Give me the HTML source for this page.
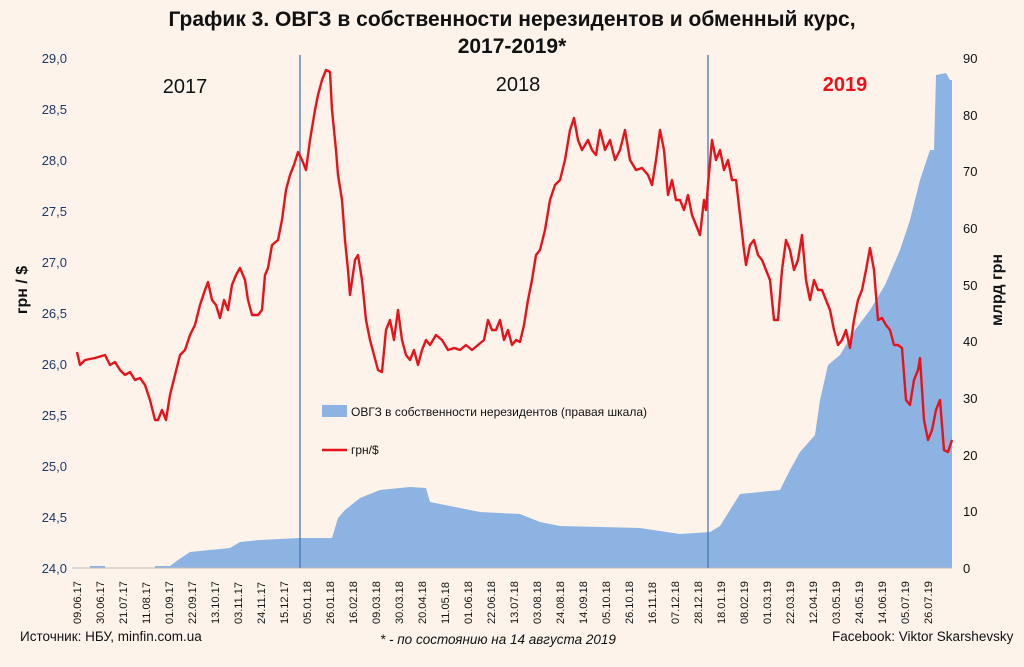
<!DOCTYPE html>
<html><head><meta charset="utf-8"><style>
html,body{margin:0;padding:0;background:#fdf3ea;}
svg{display:block;font-family:"Liberation Sans","DejaVu Sans",sans-serif;}
</style></head><body>
<svg width="1024" height="667" viewBox="0 0 1024 667" xmlns="http://www.w3.org/2000/svg">
<rect width="1024" height="667" fill="#fdf3ea"/>
<text x="512" y="26" text-anchor="middle" font-size="21" font-weight="bold" fill="#111">График 3. ОВГЗ в собственности нерезидентов и обменный курс,</text>
<text x="512" y="53" text-anchor="middle" font-size="21" font-weight="bold" fill="#111">2017-2019*</text>
<path fill="#8db3e2" d="M72,568 L90,568 L90,566 L105,566 L105,568 L155,568 L155,566 L170,566 L178,560 L190,552 L230,548 L240,542 L260,540 L300,538 L332,538 L338,518 L345,510 L360,498 L380,490 L410,487 L426,488 L430,502 L460,508 L480,512 L520,514 L540,522 L560,526 L640,528 L680,534 L710,532 L720,526 L730,510 L740,494 L780,490 L790,470 L800,452 L815,435 L820,400 L828,365 L840,355 L855,330 L870,310 L885,285 L900,250 L910,220 L920,180 L930,150 L934,150 L936,75 L946,73 L950,80 L952,80 L952,568 Z"/>
<line x1="72" y1="568" x2="952" y2="568" stroke="#bbb" stroke-width="1"/>
<line x1="300" y1="55" x2="300" y2="568" stroke="#4a78b0" stroke-width="1.3"/>
<line x1="708" y1="55" x2="708" y2="568" stroke="#4a78b0" stroke-width="1.3"/>
<polyline fill="none" stroke="#e8121b" stroke-width="2.4" stroke-linejoin="round" points="77,352 80,365 85,360 95,358 105,355 110,365 115,362 120,370 125,375 130,372 135,380 140,378 145,385 150,400 155,420 158,420 162,410 166,420 170,395 175,375 180,355 185,350 190,335 195,325 200,305 205,290 208,282 212,300 216,305 220,318 224,300 228,310 232,285 236,275 240,268 245,280 248,300 252,315 258,315 262,310 265,275 268,268 272,245 278,240 282,220 286,190 290,175 294,165 298,152 302,160 306,170 310,140 315,110 318,95 322,80 326,70 330,72 332,110 336,150 338,175 342,200 345,240 348,270 350,295 355,260 358,255 362,280 366,320 370,340 374,355 378,370 382,372 386,330 390,320 394,340 398,310 402,340 406,355 410,360 414,350 418,365 422,350 426,340 430,345 436,335 442,340 448,350 454,348 460,350 466,345 472,350 478,345 484,340 488,320 492,330 496,330 500,320 504,340 508,330 512,345 516,340 520,342 524,325 528,300 532,280 536,255 540,250 545,230 550,200 555,185 560,180 565,160 570,130 574,118 578,140 582,150 588,140 592,150 596,155 600,130 605,150 610,140 615,160 620,150 625,130 630,160 636,170 642,168 648,175 652,185 656,160 660,130 664,150 668,195 672,180 676,200 680,200 684,210 688,195 692,215 696,225 700,235 704,200 706,210 708,185 712,140 716,160 720,150 724,170 728,160 732,180 736,180 740,215 744,250 746,265 750,245 754,240 758,255 762,260 766,270 770,280 774,320 778,320 782,270 786,240 790,250 794,270 798,260 802,235 806,280 810,300 814,280 818,290 822,290 826,300 830,310 834,330 838,345 842,340 846,330 850,348 854,320 858,300 862,290 866,270 870,248 874,270 878,320 882,318 886,325 890,330 894,345 898,345 902,348 906,400 910,405 914,380 918,370 920,358 924,420 928,440 932,430 936,410 940,400 944,450 948,452 952,440"/>
<text x="185" y="93" text-anchor="middle" font-size="20" fill="#111">2017</text>
<text x="518" y="91" text-anchor="middle" font-size="20" fill="#111">2018</text>
<text x="845" y="91" text-anchor="middle" font-size="20" font-weight="bold" fill="#e8121b">2019</text>
<rect x="322" y="405" width="25" height="12" fill="#8db3e2"/>
<text x="351" y="416" font-size="12" fill="#111">ОВГЗ в собственности нерезидентов (правая шкала)</text>
<line x1="322" y1="450" x2="347" y2="450" stroke="#e8121b" stroke-width="2.4"/>
<text x="351" y="454" font-size="12" fill="#111">грн/$</text>
<g font-size="13" fill="#1f3864" text-anchor="end">
<text x="67" y="63">29,0</text><text x="67" y="114">28,5</text><text x="67" y="165">28,0</text><text x="67" y="216">27,5</text><text x="67" y="267">27,0</text><text x="67" y="318">26,5</text><text x="67" y="369">26,0</text><text x="67" y="420">25,5</text><text x="67" y="471">25,0</text><text x="67" y="522">24,5</text><text x="67" y="573">24,0</text>
</g>
<g font-size="13" fill="#111">
<text x="963" y="63">90</text><text x="963" y="120">80</text><text x="963" y="176">70</text><text x="963" y="233">60</text><text x="963" y="290">50</text><text x="963" y="346">40</text><text x="963" y="403">30</text><text x="963" y="460">20</text><text x="963" y="516">10</text><text x="963" y="573">0</text>
</g>
<text transform="translate(27,290) rotate(-90)" text-anchor="middle" font-size="16" font-weight="bold" fill="#111">грн / $</text>
<text transform="translate(1002,290) rotate(-90)" text-anchor="middle" font-size="16" font-weight="bold" fill="#111">млрд грн</text>
<text x="20" y="641" font-size="13.5" fill="#111">Источник: НБУ, minfin.com.ua</text>
<text x="380" y="644" font-size="13.5" font-style="italic" fill="#111">* - по состоянию на 14 августа 2019</text>
<text x="832" y="641" font-size="13.5" fill="#111">Facebook: Viktor Skarshevsky</text>
<g font-size="11" fill="#111">
<text transform="translate(81,624) rotate(-90)">09.06.17</text>
<text transform="translate(104,624) rotate(-90)">30.06.17</text>
<text transform="translate(127,624) rotate(-90)">21.07.17</text>
<text transform="translate(150,624) rotate(-90)">11.08.17</text>
<text transform="translate(173,624) rotate(-90)">01.09.17</text>
<text transform="translate(196,624) rotate(-90)">22.09.17</text>
<text transform="translate(219,624) rotate(-90)">13.10.17</text>
<text transform="translate(242,624) rotate(-90)">03.11.17</text>
<text transform="translate(265,624) rotate(-90)">24.11.17</text>
<text transform="translate(288,624) rotate(-90)">15.12.17</text>
<text transform="translate(311,624) rotate(-90)">05.01.18</text>
<text transform="translate(334,624) rotate(-90)">26.01.18</text>
<text transform="translate(357,624) rotate(-90)">16.02.18</text>
<text transform="translate(380,624) rotate(-90)">09.03.18</text>
<text transform="translate(403,624) rotate(-90)">30.03.18</text>
<text transform="translate(426,624) rotate(-90)">20.04.18</text>
<text transform="translate(449,624) rotate(-90)">11.05.18</text>
<text transform="translate(472,624) rotate(-90)">01.06.18</text>
<text transform="translate(495,624) rotate(-90)">22.06.18</text>
<text transform="translate(518,624) rotate(-90)">13.07.18</text>
<text transform="translate(541,624) rotate(-90)">03.08.18</text>
<text transform="translate(564,624) rotate(-90)">24.08.18</text>
<text transform="translate(587,624) rotate(-90)">14.09.18</text>
<text transform="translate(610,624) rotate(-90)">05.10.18</text>
<text transform="translate(633,624) rotate(-90)">26.10.18</text>
<text transform="translate(656,624) rotate(-90)">16.11.18</text>
<text transform="translate(679,624) rotate(-90)">07.12.18</text>
<text transform="translate(702,624) rotate(-90)">28.12.18</text>
<text transform="translate(725,624) rotate(-90)">18.01.19</text>
<text transform="translate(748,624) rotate(-90)">08.02.19</text>
<text transform="translate(771,624) rotate(-90)">01.03.19</text>
<text transform="translate(794,624) rotate(-90)">22.03.19</text>
<text transform="translate(817,624) rotate(-90)">12.04.19</text>
<text transform="translate(840,624) rotate(-90)">03.05.19</text>
<text transform="translate(863,624) rotate(-90)">24.05.19</text>
<text transform="translate(886,624) rotate(-90)">14.06.19</text>
<text transform="translate(909,624) rotate(-90)">05.07.19</text>
<text transform="translate(932,624) rotate(-90)">26.07.19</text>
</g>
</svg>
</body></html>
